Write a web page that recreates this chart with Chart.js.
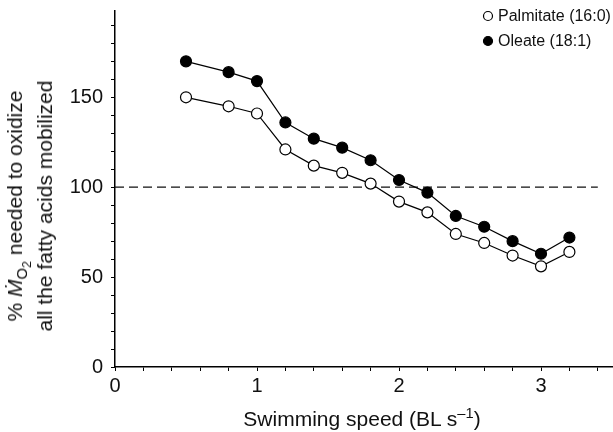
<!DOCTYPE html>
<html>
<head>
<meta charset="utf-8">
<script src="https://cdn.jsdelivr.net/npm/chart.js@4"></script>
<style>
    body { margin: 0; background: #fff; }
    #wrap { position: relative; width: 613px; height: 432px; }
    .axis-title {
        position: absolute;
        font-family: 'Liberation Sans', Arial, sans-serif;
        font-size: 21px;
        color: #111;
        white-space: nowrap;
        text-align: center;
    }
    #yTitle {
        left: 30px; top: 206px;
        line-height: 30px;
        transform: translate(-50%, -50%) rotate(-90deg);
    }
    #xTitle {
        left: 362px; top: 419px;
        line-height: 24px;
        transform: translate(-50%, -50%);
    }
    sup, sub { line-height: 0; }
</style>
</head>
<body>
<div id="wrap">
    <canvas id="chart" width="613" height="432"></canvas>
    <div class="axis-title" id="yTitle">% <i>Ṁ</i><sub style="font-size:70%">O<sub style="font-size:85%">2</sub></sub> needed to oxidize<br>all the fatty acids mobilized</div>
    <div class="axis-title" id="xTitle">Swimming speed (BL s<sup style="font-size:70%">–1</sup>)</div>
</div>
<script>
// Data
const speeds = [0.5, 0.8, 1.0, 1.2, 1.4, 1.6, 1.8, 2.0, 2.2, 2.4, 2.6, 2.8, 3.0, 3.2];
const palmitate = [150, 145, 141, 121, 112, 108, 102, 92, 86, 74, 69, 62, 56, 64];
const oleate = [170, 164, 159, 136, 127, 122, 115, 104, 97, 84, 78, 70, 63, 72];
const refLineX = [0, 3.4];
const refLineY = [100, 100];

// Ticks
const xTicks = [0, 0.2, 0.4, 0.6, 0.8, 1, 1.2, 1.4, 1.6, 1.8, 2, 2.2, 2.4, 2.6, 2.8, 3, 3.2, 3.4];
const xTickLabels = [0, 1, 2, 3];
const yTicks = [0, 10, 20, 30, 40, 50, 60, 70, 80, 90, 100, 110, 120, 130, 140, 150, 160, 170, 180, 190];
const yTickLabels = [0, 50, 100, 150];

const legendItems = [
    { label: 'Palmitate (16:0)', fill: '#fff' },
    { label: 'Oleate (18:1)', fill: '#000' }
];

const toPoints = (xs, ys) => xs.map((x, i) => ({ x: x, y: ys[i] }));
const hasLabel = (list, v) => list.some(t => Math.abs(t - v) < 1e-6);

// Legend drawn in the top-right corner
const cornerLegend = {
    id: 'cornerLegend',
    afterDraw(chart) {
        const ctx = chart.ctx;
        ctx.save();
        ctx.font = "16px 'Liberation Sans', Arial, sans-serif";
        ctx.textBaseline = 'middle';
        legendItems.forEach((item, i) => {
            const y = 16 + i * 25;
            ctx.beginPath();
            ctx.arc(488, y, 4.5, 0, Math.PI * 2);
            ctx.fillStyle = item.fill;
            ctx.fill();
            ctx.lineWidth = 1.2;
            ctx.strokeStyle = '#000';
            ctx.stroke();
            ctx.fillStyle = '#111';
            ctx.fillText(item.label, 498, y + 1);
        });
        ctx.restore();
    }
};

const tickFont = { family: "'Liberation Sans', Arial, sans-serif", size: 20 };

new Chart(document.getElementById('chart'), {
    type: 'line',
    data: {
        datasets: [
            {
                label: 'Palmitate (16:0)',
                data: toPoints(speeds, palmitate),
                borderColor: '#000',
                borderWidth: 1.2,
                pointRadius: 5.5,
                pointBorderWidth: 1.2,
                pointBackgroundColor: '#fff',
                pointBorderColor: '#000',
                tension: 0
            },
            {
                label: 'Oleate (18:1)',
                data: toPoints(speeds, oleate),
                borderColor: '#000',
                borderWidth: 1.2,
                pointRadius: 5.5,
                pointBorderWidth: 1.2,
                pointBackgroundColor: '#000',
                pointBorderColor: '#000',
                tension: 0
            },
            {
                label: 'ref',
                data: toPoints(refLineX, refLineY),
                borderColor: '#111',
                borderWidth: 1.2,
                borderDash: [9, 5],
                pointRadius: 0
            }
        ]
    },
    options: {
        responsive: false,
        animation: false,
        clip: false,
        layout: { autoPadding: false, padding: { top: 11, right: 1, left: 0, bottom: 0 } },
        plugins: {
            legend: { display: false },
            tooltip: { enabled: false }
        },
        scales: {
            x: {
                type: 'linear',
                min: 0,
                max: 3.5,
                afterBuildTicks: (scale) => { scale.ticks = xTicks.map(v => ({ value: v })); },
                afterFit: (scale) => {
                    scale.height = 65;
                    scale.paddingLeft = 0;
                    scale.paddingRight = 0;
                },
                border: { display: true, color: '#000', width: 1.5 },
                grid: { drawOnChartArea: false, drawTicks: true, tickLength: 4, color: '#000' },
                ticks: {
                    autoSkip: false,
                    maxRotation: 0,
                    padding: 3,
                    color: '#111',
                    font: tickFont,
                    callback: (v) => hasLabel(xTickLabels, v) ? String(Math.round(v)) : ''
                }
            },
            y: {
                type: 'linear',
                min: 0,
                max: 198,
                afterBuildTicks: (scale) => { scale.ticks = yTicks.map(v => ({ value: v })); },
                afterFit: (scale) => {
                    scale.width = 115;
                    scale.paddingTop = 0;
                    scale.paddingBottom = 0;
                },
                border: { display: true, color: '#000', width: 1.5 },
                grid: { drawOnChartArea: false, drawTicks: true, tickLength: 4, color: '#000' },
                ticks: {
                    autoSkip: false,
                    padding: 8,
                    color: '#111',
                    font: tickFont,
                    callback: (v) => hasLabel(yTickLabels, v) ? String(Math.round(v)) : ''
                }
            }
        }
    },
    plugins: [cornerLegend]
});
</script>
</body>
</html>
